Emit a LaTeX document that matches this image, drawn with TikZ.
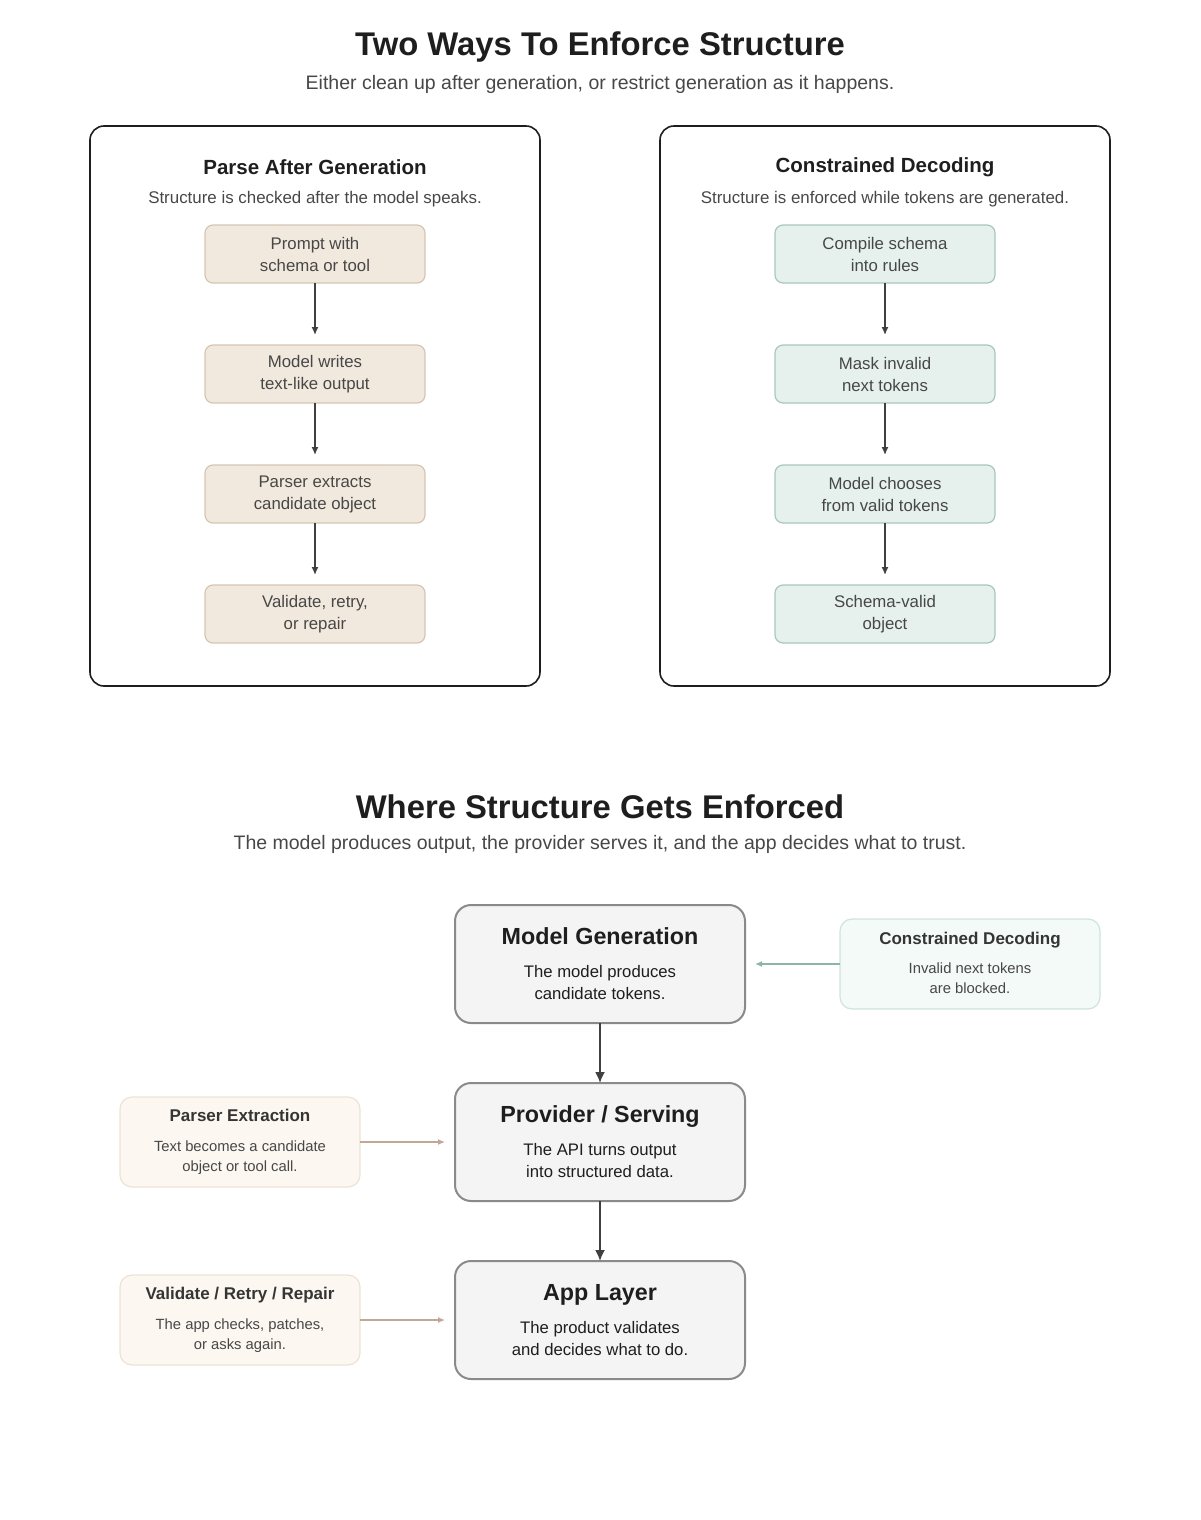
\documentclass[tikz,border=0pt]{standalone}
\usepackage{fontspec}
\setmainfont{Liberation Sans}
\usetikzlibrary{positioning,arrows.meta}

\definecolor{ink}{HTML}{1E1E1E}
\definecolor{sub}{HTML}{474747}
\definecolor{tanfill}{HTML}{F2E9DE}
\definecolor{tanline}{HTML}{D4C5B3}
\definecolor{mintfill}{HTML}{E6F1ED}
\definecolor{mintline}{HTML}{A9C6BB}
\definecolor{greyfill}{HTML}{F4F4F4}
\definecolor{greyline}{HTML}{8A8A8A}
\definecolor{palemint}{HTML}{F3FAF7}
\definecolor{palemintline}{HTML}{CFE4DB}
\definecolor{mintarrow}{HTML}{8DB5A6}
\definecolor{paletan}{HTML}{FCF8F1}
\definecolor{paletanline}{HTML}{EDE3D4}
\definecolor{tanarrow}{HTML}{C2A696}

\newcommand{\layerhead}{\bfseries\fontsize{23.3}{28}\selectfont}
\newcommand{\notehead}{\bfseries\fontsize{17}{20}\selectfont\color{ink!90}}

\tikzset{
  title/.style={font=\bfseries\fontsize{32.8}{38}\selectfont, text=ink},
  subtitle/.style={font=\fontsize{19.5}{23}\selectfont, text=sub},
  panel/.style={draw=ink, line width=1.6pt, rounded corners=14pt, minimum width=450pt, minimum height=560pt},
  paneltitle/.style={font=\bfseries\fontsize{20.5}{25}\selectfont, text=ink},
  panelsub/.style={font=\fontsize{16.9}{20}\selectfont, text=sub},
  stepbox/.style={rounded corners=8pt, line width=1.2pt, minimum width=220pt, minimum height=58pt,
    outer sep=0pt, align=center, inner sep=0pt, font=\fontsize{16.8}{22}\selectfont, text=sub},
  tanbox/.style={stepbox, fill=tanfill, draw=tanline},
  mintbox/.style={stepbox, fill=mintfill, draw=mintline},
  layer/.style={rounded corners=16pt, line width=2pt, fill=greyfill, draw=greyline,
    minimum width=290pt, minimum height=118pt, outer sep=0pt, align=center, inner sep=0pt,
    font=\fontsize{16.7}{22}\selectfont, text=ink},
  note/.style={rounded corners=12pt, line width=1.2pt, minimum width=240pt, minimum height=90pt,
    outer sep=0pt, align=center, inner sep=0pt, font=\fontsize{14.8}{20}\selectfont, text=sub},
  flow/.style={-{Latex[length=11pt,width=10pt]}, line width=1.8pt, draw=ink!85},
  stepflow/.style={-{Latex[length=8pt,width=7pt]}, line width=1.4pt, draw=ink!85, shorten >=10pt},
  side/.style={-{Latex[length=7pt,width=6pt]}, line width=1.2pt, shorten >=10pt},
}

\begin{document}
\begin{tikzpicture}[x=1pt, y=-1pt, node distance=62pt]
\useasboundingbox (0,0) rectangle (1200,1520);

% Top part
\node[title] (t1) at (600,47) {Two Ways To Enforce Structure};
\node[subtitle] (s1) at (600,84) {Either clean up after generation, or restrict generation as it happens.};

\node[panel] (left) at (315,406) {};
\node[panel] (right) at (885,406) {};

\node[paneltitle] (lt) at (315,167) {Parse After Generation};
\node[panelsub] (ls) at (315,199) {Structure is checked after the model speaks.};
\node[paneltitle] (rt) at (885,167) {Constrained Decoding};
\node[panelsub] (rs) at (885,199) {Structure is enforced while tokens are generated.};

% Left steps
\node[tanbox] (p1) at (315,254) {Prompt with\\schema or tool};
\node[tanbox] (p2) [below=of p1] {Model writes\\text-like output};
\node[tanbox] (p3) [below=of p2] {Parser extracts\\candidate object};
\node[tanbox] (p4) [below=of p3] {Validate, retry,\\or repair};

% Right steps
\node[mintbox] (c1) at (885,254) {Compile schema\\into rules};
\node[mintbox] (c2) [below=of c1] {Mask invalid\\next tokens};
\node[mintbox] (c3) [below=of c2] {Model chooses\\from valid tokens};
\node[mintbox] (c4) [below=of c3] {Schema-valid\\object};

\foreach \a/\b in {p1/p2, p2/p3, p3/p4, c1/c2, c2/c3, c3/c4}
  \draw[stepflow] (\a) -- (\b);

% Bottom part
\node[title] (t2) at (600,807) {Where Structure Gets Enforced};
\node[subtitle] (s2) at (600,844) {The model produces output, the provider serves it, and the app decides what to trust.};

\node[layer] (gen) at (600,964) {{\layerhead Model Generation}\\[11pt]The model produces\\candidate tokens.};
\node[layer] (serve) [below=60pt of gen] {{\layerhead Provider / Serving}\\[11pt]The API turns output\\into structured data.};
\node[layer] (app) [below=60pt of serve] {{\layerhead App Layer}\\[11pt]The product validates\\and decides what to do.};

\draw[flow] (gen) -- (serve);
\draw[flow] (serve) -- (app);

\node[note, fill=palemint, draw=palemintline, minimum width=260pt, text depth=3pt] (cd) at (970,964)
  {{\notehead Constrained Decoding}\\[9pt]Invalid next tokens\\are blocked.};
\node[note, fill=paletan, draw=paletanline] (pe) at (240,1142)
  {{\notehead Parser Extraction}\\[10pt]Text becomes a candidate\\object or tool call.};
\node[note, fill=paletan, draw=paletanline] (vr) at (240,1320)
  {{\notehead Validate / Retry / Repair}\\[10pt]The app checks, patches,\\or asks again.};

\draw[side, draw=mintarrow] (cd) -- (gen);
\draw[side, draw=tanarrow] (pe) -- (serve);
\draw[side, draw=tanarrow] (vr) -- (app);

\end{tikzpicture}
\end{document}
